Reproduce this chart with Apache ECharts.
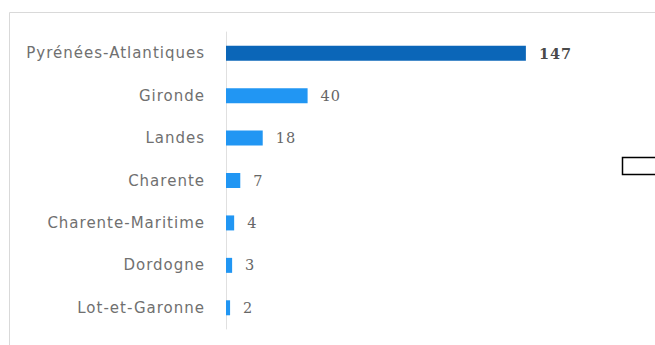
<!DOCTYPE html>
<html>
<head>
<meta charset="utf-8">
<script src="https://cdn.jsdelivr.net/npm/echarts@6/dist/echarts.min.js"></script>
<style>
html,body{margin:0;padding:0;background:#fff;}
#c{width:655px;height:345px;}
#c svg text{letter-spacing:1px;}
</style>
</head>
<body>
<div id="c"></div>
<script>
const categories = ["Pyrénées-Atlantiques","Gironde","Landes","Charente","Charente-Maritime","Dordogne","Lot-et-Garonne"];
const values = [147, 40, 18, 7, 4, 3, 2];

const chart = echarts.init(document.getElementById('c'), null, {renderer:'svg'});
chart.setOption({
  animation: false,
  backgroundColor: '#ffffff',
  graphic: [
    {type:'rect', shape:{x:9.5,y:12.5,width:660,height:340}, style:{fill:'none', stroke:'#d9d9d9', lineWidth:1}, silent:true},
    {type:'rect', shape:{x:622.5,y:157.5,width:40,height:17}, style:{fill:'#ffffff', stroke:'#000000', lineWidth:1.5}, silent:true, z:10}
  ],
  grid: {left:226, top:32, width:408, height:297, containLabel:false},
  xAxis: {type:'value', min:0, max:200, show:false},
  yAxis: {
    type:'category', data: categories, inverse:true,
    axisLine:{show:true, lineStyle:{color:'#e0e0e0', width:1}},
    axisTick:{show:false},
    axisLabel:{color:'#707070', fontSize:15, fontFamily:'"DejaVu Sans", sans-serif', margin:21}
  },
  series: [{
    type:'bar',
    barWidth:15,
    data: values.map((v,i)=>({value:v, itemStyle:{color: i===0 ? '#0b66b8' : '#2196f3'},
      label:{fontWeight: i===0 ? 'bold' : 'normal', color: i===0 ? '#4a4a4a' : '#666666'}})),
    label:{show:true, position:'right', distance:13, fontSize:14.5, fontFamily:'"DejaVu Serif", serif'}
  }]
});
</script>
</body>
</html>
